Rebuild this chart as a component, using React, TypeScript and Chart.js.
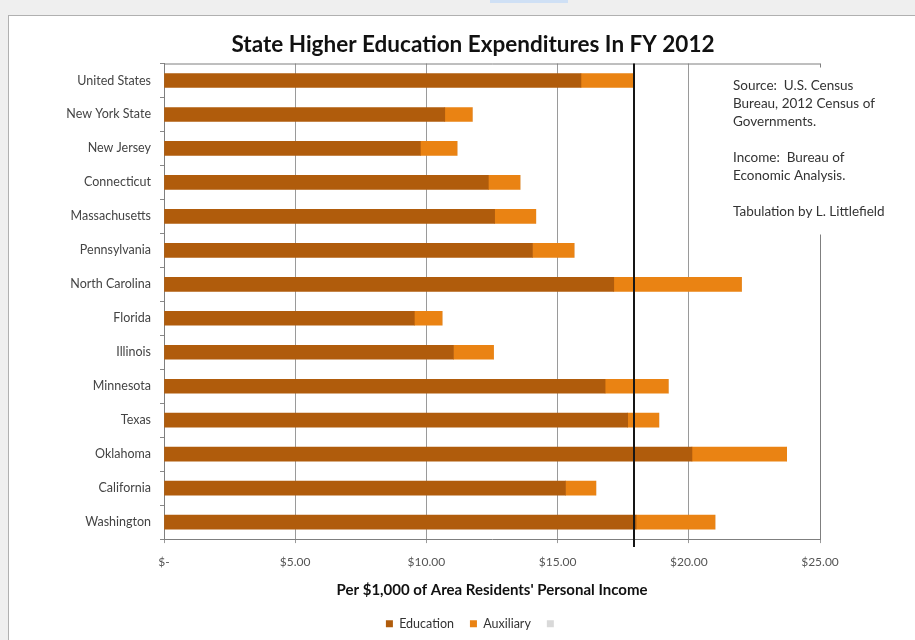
import React, { useEffect, useRef } from "react";
import { Chart, registerables } from "chart.js";

Chart.register(...registerables);

const categories = [
  "United States",
  "New York State",
  "New Jersey",
  "Connecticut",
  "Massachusetts",
  "Pennsylvania",
  "North Carolina",
  "Florida",
  "Illinois",
  "Minnesota",
  "Texas",
  "Oklahoma",
  "California",
  "Washington",
];

const education = [15.89, 10.7, 9.77, 12.36, 12.6, 14.04, 17.14, 9.54, 11.03, 16.81, 17.67, 20.12, 15.3, 17.99];
const auxiliary = [1.98, 1.05, 1.4, 1.21, 1.57, 1.59, 4.87, 1.06, 1.53, 2.41, 1.19, 3.61, 1.16, 3.01];
const blank = [0, 0, 0, 0, 0, 0, 0, 0, 0, 0, 0, 0, 0, 0];

const xTickLabels = ["$-", "$5.00", "$10.00", "$15.00", "$20.00", "$25.00"];
const referenceLine = 17.9;

const titleText = "State Higher Education Expenditures In FY 2012";
const xTitleText = "Per $1,000 of Area Residents' Personal Income";
const noteLines = [
  "Source:  U.S. Census",
  "Bureau, 2012 Census of",
  "Governments.",
  "",
  "Income:  Bureau of",
  "Economic Analysis.",
  "",
  "Tabulation by L. Littlefield",
];

const FONT = "Lato, 'Open Sans', sans-serif";

export default function App() {
  const ref = useRef<HTMLCanvasElement | null>(null);

  useEffect(() => {
    if (!ref.current) return;

    const framePlugin = {
      id: "frame",
      afterLayout(chart: any) {
        // let the category labels use the space to the left of the narrow y-axis box
        const y = chart.scales.y;
        if (y) y.left = 0;
      },
      beforeDatasetsDraw(chart: any) {
        const { ctx, chartArea } = chart;
        ctx.save();
        ctx.strokeStyle = "#7f7f7f";
        ctx.lineWidth = 1;
        ctx.beginPath();
        ctx.moveTo(chartArea.left, chartArea.top + 0.5);
        ctx.lineTo(chartArea.right + 0.5, chartArea.top + 0.5);
        ctx.lineTo(chartArea.right + 0.5, chartArea.bottom);
        ctx.stroke();
        ctx.restore();
      },
      afterDatasetsDraw(chart: any) {
        const { ctx, chartArea, scales } = chart;
        const x = Math.round(scales.x.getPixelForValue(referenceLine));
        ctx.save();
        ctx.strokeStyle = "#151515";
        ctx.lineWidth = 2;
        ctx.beginPath();
        ctx.moveTo(x, chartArea.top);
        ctx.lineTo(x, chartArea.bottom + 8);
        ctx.stroke();
        ctx.restore();
      },
      afterDraw(chart: any) {
        const { ctx, chartArea } = chart;
        const bx = chartArea.right - 95;
        const by = chartArea.top + 4;
        ctx.save();
        ctx.fillStyle = "#ffffff";
        ctx.fillRect(bx, by, 182, 167);
        ctx.fillStyle = "#333333";
        ctx.font = `13.5px ${FONT}`;
        ctx.textBaseline = "middle";
        ctx.textAlign = "left";
        noteLines.forEach((line, i) => {
          if (line) ctx.fillText(line, bx + 8, by + 18 + i * 18);
        });
        ctx.restore();
      },
    };

    const chart = new Chart(ref.current, {
      type: "bar",
      data: {
        labels: categories,
        datasets: [
          {
            label: "Education",
            data: education,
            backgroundColor: "#B05C0C",
            barThickness: 14,
          },
          {
            label: "Auxiliary",
            data: auxiliary,
            backgroundColor: "#EA8313",
            barThickness: 14,
          },
          {
            label: "",
            data: blank,
            backgroundColor: "#d9d9d9",
            barThickness: 14,
          },
        ],
      },
      options: {
        indexAxis: "y",
        responsive: false,
        animation: false,
        layout: { padding: { left: 126, right: 95, top: 0, bottom: 0 } },
        plugins: {
          title: {
            display: true,
            text: titleText,
            color: "#111111",
            font: { family: FONT, size: 22.5, weight: "bold", lineHeight: 1.2 },
            padding: { top: 31.5, bottom: 5 },
          },
          legend: {
            display: true,
            position: "bottom",
            labels: {
              boxWidth: 7,
              boxHeight: 7,
              padding: 16,
              color: "#333333",
              font: { family: FONT, size: 12.5 },
            },
          },
          tooltip: { enabled: false },
        },
        scales: {
          x: {
            stacked: true,
            min: 0,
            max: 25,
            ticks: {
              stepSize: 5,
              color: "#555555",
              padding: 12,
              font: { family: FONT, size: 12 },
              callback: (_v: any, i: number) => xTickLabels[i],
            },
            grid: {
              color: "#9a9a9a",
              tickLength: 4,
            },
            border: { display: true, color: "#7f7f7f" },
            title: {
              display: true,
              text: xTitleText,
              color: "#111111",
              font: { family: FONT, size: 15, weight: "bold" },
              padding: { top: 0, bottom: 2 },
            },
          },
          y: {
            stacked: true,
            afterFit: (scale: any) => {
              scale.width = 38;
            },
            ticks: {
              color: "#444444",
              padding: 9,
              font: { family: FONT, size: 12.5 },
            },
            grid: {
              drawOnChartArea: false,
              tickLength: 4,
              color: "#888888",
            },
            border: { display: true, color: "#7f7f7f" },
          },
        },
      },
      plugins: [framePlugin],
    });

    return () => chart.destroy();
  }, []);

  return (
    <div style={{ position: "fixed", left: 0, top: 0, width: 915, height: 640, background: "#efefef", overflow: "hidden" }}>
      <div style={{ position: "absolute", left: 490, top: 0, width: 78, height: 3, background: "#cfe0f5" }} />
      <div
        style={{
          position: "absolute",
          left: 8,
          top: 15,
          right: 0,
          bottom: 0,
          background: "#ffffff",
          borderLeft: "1px solid #b0b0b0",
          borderTop: "1px solid #b0b0b0",
        }}
      />
      <canvas ref={ref} width={915} height={640} style={{ position: "absolute", left: 0, top: 0, display: "block" }} />
    </div>
  );
}
